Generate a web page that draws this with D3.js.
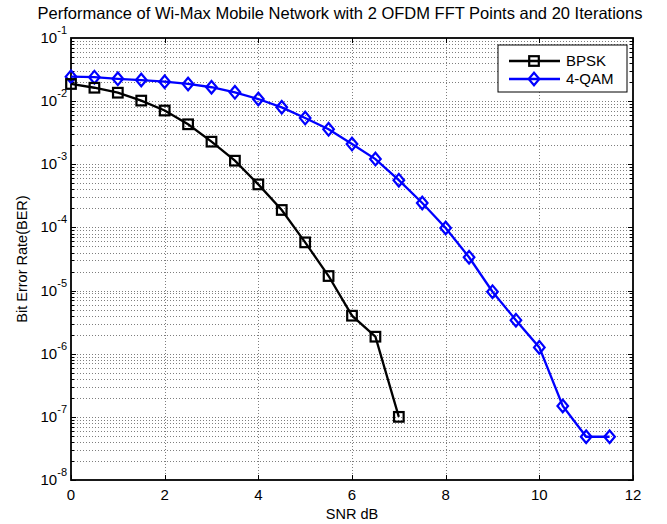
<!DOCTYPE html>
<html><head><meta charset="utf-8">
<script src="https://cdn.jsdelivr.net/npm/d3@7"></script>
<style>
body{margin:0;background:#fff;}
text{font-family:"Liberation Sans",Arial,sans-serif;}
</style></head>
<body><svg id="c" width="667" height="524"></svg>
<script>
const snrBPSK = [0,0.5,1,1.5,2,2.5,3,3.5,4,4.5,5,5.5,6,6.5,7];
const berBPSK = [1.87e-2,1.63e-2,1.36e-2,1.02e-2,7.1e-3,4.3e-3,2.28e-3,1.14e-3,4.8e-4,1.89e-4,5.8e-5,1.7e-5,4.0e-6,1.86e-6,1.0e-7];
const snrQAM = [0,0.5,1,1.5,2,2.5,3,3.5,4,4.5,5,5.5,6,6.5,7,7.5,8,8.5,9,9.5,10,10.5,11,11.5];
const berQAM = [2.44e-2,2.4e-2,2.26e-2,2.16e-2,2.03e-2,1.87e-2,1.66e-2,1.38e-2,1.08e-2,7.98e-3,5.4e-3,3.58e-3,2.09e-3,1.21e-3,5.6e-4,2.44e-4,9.8e-5,3.37e-5,9.6e-6,3.4e-6,1.26e-6,1.49e-7,4.84e-8,4.84e-8];
const xTicks = [0,2,4,6,8,10,12];
const yExps = [-1,-2,-3,-4,-5,-6,-7,-8];
const seriesNames = ["BPSK","4-QAM"];
const titleText = "Performance of Wi-Max Mobile Network with 2 OFDM FFT Points and 20 Iterations";
const xLabel = "SNR dB";
const yLabel = "Bit Error Rate(BER)";

const L=71, R=633, T=38, B=480;
const svg = d3.select("#c");
const x = d3.scaleLinear().domain([0,12]).range([L,R]);
const y = d3.scaleLog().domain([1e-8,1e-1]).range([B,T]);

// grid
const grid = svg.append("g").attr("stroke","#000").attr("stroke-width",1)
  .attr("stroke-dasharray","1,2").attr("opacity",0.5);
xTicks.slice(1,-1).forEach(v=>{
  grid.append("line").attr("x1",Math.round(x(v))+0.5).attr("x2",Math.round(x(v))+0.5).attr("y1",T).attr("y2",B);
});
const minorVals=[];
for(let e=-8;e<-1;e++){ for(let m=1;m<10;m++){ minorVals.push(m*Math.pow(10,e)); } }
minorVals.forEach(v=>{
  if (v<=1e-8*1.0001) return;
  const yy=Math.round(y(v))+0.5;
  grid.append("line").attr("x1",L).attr("x2",R).attr("y1",yy).attr("y2",yy);
});

// ticks (inward, all sides)
const tk = svg.append("g").attr("stroke","#000").attr("stroke-width",1);
xTicks.forEach(v=>{
  const xx=Math.round(x(v))+0.5;
  tk.append("line").attr("x1",xx).attr("x2",xx).attr("y1",B).attr("y2",B-5);
  tk.append("line").attr("x1",xx).attr("x2",xx).attr("y1",T).attr("y2",T+5);
});
minorVals.forEach(v=>{
  const yy=Math.round(y(v))+0.5;
  const len = (Math.abs(Math.log10(v)-Math.round(Math.log10(v)))<1e-9)?5:3;
  tk.append("line").attr("x1",L).attr("x2",L+len).attr("y1",yy).attr("y2",yy);
  tk.append("line").attr("x1",R).attr("x2",R-len).attr("y1",yy).attr("y2",yy);
});

// axes box
svg.append("rect").attr("x",L).attr("y",T).attr("width",R-L).attr("height",B-T)
  .attr("fill","none").attr("stroke","#000").attr("stroke-width",1.8);

// x tick labels
svg.append("g").selectAll("text").data(xTicks).join("text")
  .attr("x",d=>x(d)).attr("y",B+20).attr("text-anchor","middle")
  .attr("font-size",15).text(d=>d);

// y tick labels
yExps.forEach(e=>{
  const yy=y(Math.pow(10,e));
  const t=svg.append("text").attr("x",L-4).attr("y",yy+5).attr("text-anchor","end").attr("font-size",15);
  t.append("tspan").text("10");
  t.append("tspan").attr("dy",-9).attr("font-size",11).text(e);
});

// title & labels
svg.append("text").attr("x",(L+R)/2-12).attr("y",19).attr("text-anchor","middle").attr("font-size",16.5).text(titleText);
svg.append("text").attr("x",(L+R)/2).attr("y",519).attr("text-anchor","middle").attr("font-size",14.5).text(xLabel);
svg.append("text").attr("transform",`translate(27,${(T+B)/2}) rotate(-90)`).attr("text-anchor","middle").attr("font-size",14.5).text(yLabel);

// series
const line = d3.line().x(d=>x(d[0])).y(d=>y(d[1]));
const bp = snrBPSK.map((s,i)=>[s,berBPSK[i]]);
const qm = snrQAM.map((s,i)=>[s,berQAM[i]]);
function square(g,cx,cy,col){ g.append("rect").attr("x",cx-4.8).attr("y",cy-4.8).attr("width",9.6).attr("height",9.6).attr("fill","none").attr("stroke",col).attr("stroke-width",2.2); }
function diamond(g,cx,cy,col){ g.append("path").attr("d",`M${cx},${cy-6.3}L${cx+5.3},${cy}L${cx},${cy+6.3}L${cx-5.3},${cy}Z`).attr("fill","none").attr("stroke",col).attr("stroke-width",2.2); }

const gQ = svg.append("g");
gQ.append("path").datum(qm).attr("d",line).attr("fill","none").attr("stroke","#0000ff").attr("stroke-width",2.3);
qm.forEach(d=>diamond(gQ,x(d[0]),y(d[1]),"#0000ff"));
const gB = svg.append("g");
gB.append("path").datum(bp).attr("d",line).attr("fill","none").attr("stroke","#000").attr("stroke-width",2.3);
bp.forEach(d=>square(gB,x(d[0]),y(d[1]),"#000"));

// legend
const lg = svg.append("g");
lg.append("rect").attr("x",498).attr("y",45).attr("width",129).attr("height",47).attr("fill","#fff").attr("stroke","#000").attr("stroke-width",1);
const rows=[{n:seriesNames[0],c:"#000",m:square,y:61},{n:seriesNames[1],c:"#0000ff",m:diamond,y:79}];
rows.forEach(r=>{
  lg.append("line").attr("x1",509).attr("x2",560).attr("y1",r.y).attr("y2",r.y).attr("stroke",r.c).attr("stroke-width",2.3);
  r.m(lg,534,r.y,r.c);
  lg.append("text").attr("x",566).attr("y",r.y+5).attr("font-size",15).text(r.n);
});
</script></body></html>
